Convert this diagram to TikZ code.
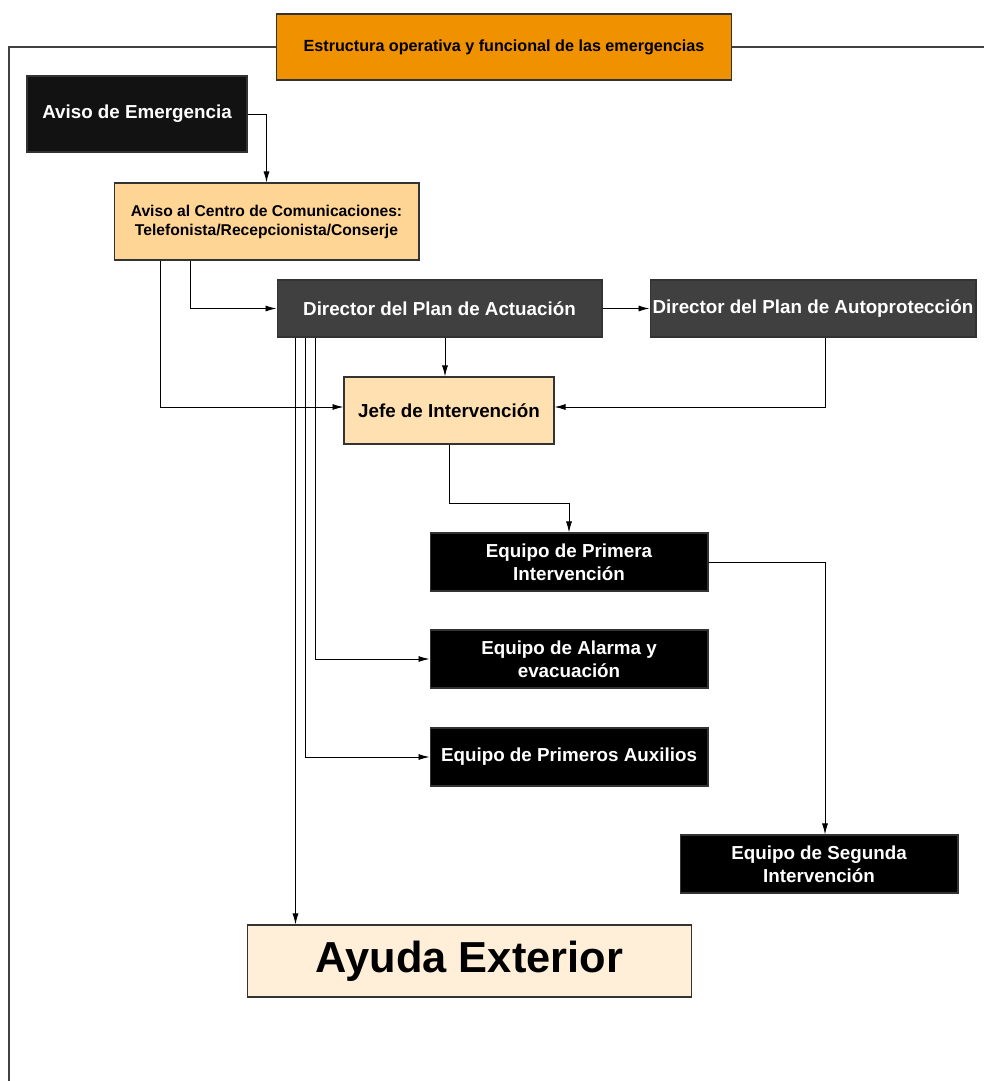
\documentclass[tikz,border=0pt]{standalone}
\usepackage{fontspec}
\setmainfont{Liberation Sans}
\usetikzlibrary{arrows.meta}

\definecolor{naranja}{HTML}{F09200}
\definecolor{crema}{HTML}{FFD596}
\definecolor{melocoton}{HTML}{FFE0B0}
\definecolor{marfil}{HTML}{FFEFD9}
\definecolor{grisosc}{HTML}{404040}

\tikzset{
  caja/.style={draw=black!80,line width=0.6pt,inner sep=0pt,align=center,
    font=\bfseries\fontsize{10.7}{13}\selectfont},
  negra/.style={caja,fill=black,text=white},
  gris/.style={caja,fill=grisosc,text=white},
  flecha/.style={-{Latex[length=0.22cm,width=0.12cm]},line width=0.5pt,black}
}

\begin{document}
\begin{tikzpicture}[x=0.02cm,y=-0.02cm]
\useasboundingbox (0,0) rectangle (984,1081);
%Marco
\draw[black!75,line width=0.8pt](9,1081)--(9,47)--(984,47);
%Cajas
\node[caja,fill=naranja,minimum width=9.12cm,minimum height=1.32cm,font=\bfseries\fontsize{9.2}{11}\selectfont] (titulo) at (504,47) {Estructura operativa y funcional de las emergencias};
\node[caja,fill=black!93,text=white,minimum width=4.4cm,minimum height=1.52cm] (aviso) at (137,114) {Aviso de Emergencia};
\node[caja,fill=crema,minimum width=6.1cm,minimum height=1.54cm,font=\bfseries\fontsize{8.9}{10.8}\selectfont] (centro) at (266.5,221.5) {Aviso al Centro de Comunicaciones:\\Telefonista/Recepcionista/Conserje};
\node[gris,minimum width=6.5cm,minimum height=1.14cm] (dact) at (439.5,308.5) {Director del Plan de Actuación};
\node[gris,minimum width=6.52cm,minimum height=1.14cm] (daut) at (813,308.5) {Director del Plan de Autoprotección};
\node[caja,fill=melocoton,minimum width=4.2cm,minimum height=1.34cm] (jefe) at (449,410.5) {Jefe de Intervención};
\node[negra,minimum width=5.56cm,minimum height=1.16cm] (primera) at (569,562) {Equipo de Primera\\Intervención};
\node[negra,minimum width=5.56cm,minimum height=1.16cm] (alarma) at (569,659) {Equipo de Alarma y\\evacuación};
\node[negra,minimum width=5.56cm,minimum height=1.16cm] (auxilios) at (569,757) {Equipo de Primeros Auxilios};
\node[negra,minimum width=5.56cm,minimum height=1.16cm] (segunda) at (819,864) {Equipo de Segunda\\Intervención};
\node[caja,fill=marfil,minimum width=8.9cm,minimum height=1.44cm,font=\bfseries\fontsize{24.7}{28}\selectfont] (ayuda) at (469.5,961) {\raisebox{-0.08cm}{Ayuda Exterior}};
%Puntos de salida
\coordinate (c1) at ([xshift=1.54cm]centro.south west);
\coordinate (c2) at ([xshift=0.94cm]centro.south west);
\coordinate (d1) at ([xshift=0.38cm]dact.south west);
\coordinate (d2) at ([xshift=0.58cm]dact.south west);
\coordinate (d3) at ([xshift=0.78cm]dact.south west);
\coordinate (d4) at ([xshift=0.11cm]dact.south);
\coordinate (a1) at ([xshift=0.24cm]daut.south);
\coordinate (j1) at ([yshift=0.07cm]jefe.west);
\coordinate (j2) at ([yshift=0.07cm]jefe.east);
\coordinate (s1) at ([xshift=0.12cm]segunda.north);
%Conexiones
\draw[flecha](aviso.east)-|(centro.north);
\draw[flecha](c1)|-(dact.west);
\draw[flecha](c2)|-(j1);
\draw[flecha](dact.east)--(daut.west);
\draw[flecha](d4)--(d4 |- jefe.north);
\draw[flecha](a1)|-(j2);
\draw[flecha](jefe.south)--++(0,59)-|(primera.north);
\draw[flecha](primera.east)-|(s1);
\draw[flecha](d3)|-(alarma.west);
\draw[flecha](d2)|-(auxilios.west);
\draw[flecha](d1)--(d1 |- ayuda.north);
\end{tikzpicture}
\end{document}
